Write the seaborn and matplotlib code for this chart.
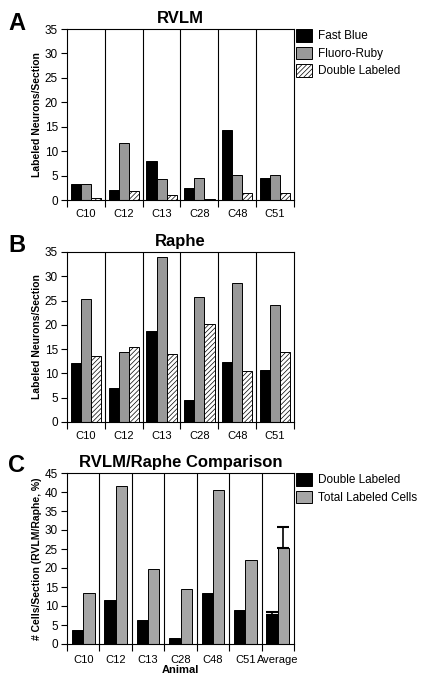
import matplotlib
matplotlib.use("Agg")
import matplotlib.pyplot as plt
from matplotlib.container import BarContainer
import pandas as pd
import seaborn as sns

animals = ["C10", "C12", "C13", "C28", "C48", "C51"]
series_ab = ["Fast Blue", "Fluoro-Ruby", "Double Labeled"]

rvlm_fast_blue = [3.3, 2.0, 7.9, 2.5, 14.4, 4.6]
rvlm_fluoro_ruby = [3.2, 11.6, 4.4, 4.6, 5.1, 5.1]
rvlm_double = [0.5, 1.8, 1.0, 0.3, 1.4, 1.4]

raphe_fast_blue = [12.2, 7.0, 18.8, 4.5, 12.4, 10.8]
raphe_fluoro_ruby = [25.4, 14.4, 34.0, 25.8, 28.6, 24.1]
raphe_double = [13.6, 15.5, 14.1, 20.1, 10.4, 14.4]

comp_animals = ["C10", "C12", "C13", "C28", "C48", "C51", "Average"]
series_c = ["Double Labeled", "Total Labeled Cells"]
comp_double = [3.6, 11.6, 6.2, 1.6, 13.3, 9.0, 7.6]
comp_total = [13.3, 41.5, 19.8, 14.5, 40.5, 22.1, 25.2]
avg_err_double = 0.9
avg_err_total = 5.6

sns.set_theme(style="ticks")
plt.rcParams["font.family"] = ["Liberation Sans", "DejaVu Sans"]
plt.rcParams["hatch.linewidth"] = 0.5
plt.rcParams["hatch.color"] = "#555555"
for key in ["text.color", "axes.labelcolor", "xtick.color", "ytick.color"]:
    plt.rcParams[key] = "black"

W, H = 426, 686
fig = plt.figure(figsize=(W / 100, H / 100), dpi=100)


def add_axes(top, bottom, left=67, right=294):
    return fig.add_axes([left / W, 1 - bottom / H, (right - left) / W, (bottom - top) / H])


def long_df(cats, names, cols):
    rows = []
    for name, vals in zip(names, cols):
        for c, v in zip(cats, vals):
            rows.append({"animal": c, "series": name, "value": v})
    return pd.DataFrame(rows)


def bars(ax):
    return [c for c in ax.containers if isinstance(c, BarContainer)]


def style_axes(ax, cats, ymax, ylabel):
    n = len(cats)
    ax.set_xlim(-0.5, n - 0.5)
    ax.set_ylim(0, ymax)
    ax.set_yticks(range(0, ymax + 1, 5))
    for i in range(n - 1):
        ax.axvline(i + 0.5, color="black", lw=0.8, zorder=0)
    ax.set_xticks(range(n))
    ax.set_xticklabels(cats)
    ax.set_xticks([i - 0.5 for i in range(n + 1)], minor=True)
    ax.tick_params(axis="x", which="major", length=0, pad=6.5, labelsize=8)
    ax.tick_params(axis="x", which="minor", length=5, width=0.8, direction="out")
    ax.tick_params(axis="y", length=4.5, width=0.8, labelsize=8.5, pad=2)
    for s in ax.spines.values():
        s.set_linewidth(0.8)
        s.set_color("black")
    ax.set_xlabel("")
    ax.set_ylabel(ylabel, fontsize=7.5, fontweight="bold", labelpad=2)


def legend(ax, names, y):
    handles = [c.patches[0] for c in bars(ax)]
    ax.legend(handles, names, loc="upper left", bbox_to_anchor=(1.01, y),
              frameon=False, fontsize=8.5, handlelength=1.3, handleheight=1.3,
              handletextpad=0.5, labelspacing=0.35, borderaxespad=0, borderpad=0)


colors_ab = ["#000000", "#999999", "#ffffff"]

# Panel A
axA = add_axes(29, 200)
dfA = long_df(animals, series_ab, [rvlm_fast_blue, rvlm_fluoro_ruby, rvlm_double])
sns.barplot(data=dfA, x="animal", y="value", hue="series", palette=colors_ab,
            width=0.8, edgecolor="black", linewidth=0.7, ax=axA, legend=False)
for p in bars(axA)[2]:
    p.set_hatch("///////")
style_axes(axA, animals, 35, "Labeled Neurons/Section")
legend(axA, series_ab, 1.0)
axA.set_title("RVLM", fontsize=12, fontweight="bold", pad=4)

# Panel B
axB = add_axes(252, 422)
dfB = long_df(animals, series_ab, [raphe_fast_blue, raphe_fluoro_ruby, raphe_double])
sns.barplot(data=dfB, x="animal", y="value", hue="series", palette=colors_ab,
            width=0.8, edgecolor="black", linewidth=0.7, ax=axB, legend=False)
for p in bars(axB)[2]:
    p.set_hatch("///////")
style_axes(axB, animals, 35, "Labeled Neurons/Section")
axB.set_title("Raphe", fontsize=12, fontweight="bold", pad=4)

# Panel C
axC = add_axes(473, 644)
dfC = long_df(comp_animals, series_c, [comp_double, comp_total])
sns.barplot(data=dfC, x="animal", y="value", hue="series", palette=["#000000", "#a6a6a6"],
            width=0.7, edgecolor="black", linewidth=0.7, ax=axC, legend=False)
for cont, err in zip(bars(axC), [avg_err_double, avg_err_total]):
    bar = cont.patches[-1]
    axC.errorbar(bar.get_x() + bar.get_width() / 2, bar.get_height(),
                 yerr=[[0], [err]], color="black", capsize=4, elinewidth=1.2,
                 capthick=1.5)
style_axes(axC, comp_animals, 45, "# Cells/Section (RVLM/Raphe, %)")
axC.tick_params(axis="x", which="major", pad=8)
axC.set_xlabel("Animal", fontsize=8, fontweight="bold", labelpad=0)
legend(axC, series_c, 1.0)
axC.set_title("RVLM/Raphe Comparison", fontsize=12, fontweight="bold", pad=4)

for letter, ytop in [("A", 12), ("B", 234), ("C", 454)]:
    fig.text(8 / W, 1 - ytop / H, letter, fontsize=17, fontweight="bold", va="top")

fig.savefig("out.png", dpi=100)
